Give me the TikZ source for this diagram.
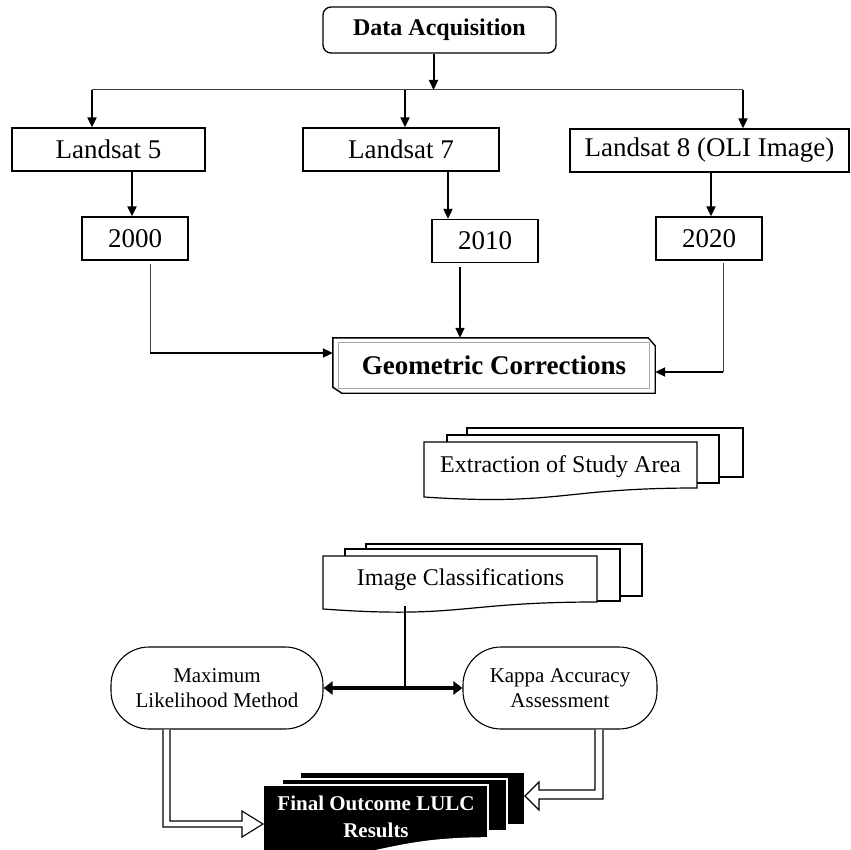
\documentclass[tikz,border=0pt]{standalone}
\usepackage{fontspec}
\setmainfont{Liberation Serif}
\usetikzlibrary{arrows.meta,calc}
\begin{document}
\begin{tikzpicture}[x=1pt,y=-1pt,
  ar/.style={line width=2pt,-{Triangle[length=10pt,width=9pt]}},
  thinln/.style={line width=1pt,draw=black!75},
  sqbox/.style={draw,line width=1.3pt,inner sep=0pt,minimum height=43pt,font=\fontsize{27}{30}\selectfont},
  yrbox/.style={sqbox,minimum width=106pt},
  pillbox/.style={draw,line width=1.1pt,rounded corners=38pt,minimum height=82pt,inner sep=0pt,align=center,font=\fontsize{21}{25}\selectfont},
  page/.style={fill=white,draw=black,line width=1.2pt},
  blkpage/.style={fill=black,draw=white,line width=1.6pt},
  blockarrow/.style={draw=black,fill=white,line width=1.1pt,line join=miter}
]
\useasboundingbox (0,0) rectangle (851,850);
\clip (0,0) rectangle (851,850);

% top
\node[draw,line width=1.3pt,rounded corners=8pt,minimum width=233pt,minimum height=46pt,inner sep=0pt,font=\bfseries\fontsize{24}{27}\selectfont] (da) at (439.5,30) {Data Acquisition};
\node[sqbox,minimum width=193pt] (l5) at (108.5,149.5) {Landsat 5};
\node[sqbox,minimum width=196pt] (l7) at (401,149.5) {Landsat 7};
\node[sqbox,minimum width=279pt] (l8) at (709.5,150.5) {Landsat 8 (OLI Image)};
\node[yrbox] (y00) at (135,238.5) {2000};
\node[yrbox] (y10) at (485,241) {2010};
\node[yrbox] (y20) at (709,238.5) {2020};
\node[minimum width=322pt,minimum height=55pt,inner sep=0pt,font=\bfseries\fontsize{27}{30}\selectfont] (geo) at (494,365.5) {Geometric Corrections};
\draw[line width=1.4pt] (geo.north west) -- ($(geo.north east)+(-7,0)$) -- ($(geo.north east)+(0,8)$) -- (geo.south east) -- ($(geo.south west)+(9,0)$) -- ($(geo.south west)+(0,-6)$) -- cycle;
\draw[black!35,line width=1pt] ($(geo.north west)+(6,5)$) rectangle ($(geo.south east)+(-6,-5)$);

% distribution line
\coordinate (hl) at (92,90);
\coordinate (hm) at (405,90);
\coordinate (hr) at (743,90);
\draw[thinln] (hl) -- (hr);
\coordinate (dab) at ($(da.south)+(-6,0)$);
\draw[ar] (dab) -- (dab |- hl);
\draw[ar] (hl) -- (hl |- l5.north);
\draw[ar] (hm) -- (hm |- l7.north);
\draw[ar] (hr) -- (hr |- l8.north);

% landsat -> years
\coordinate (a5) at ($(y00.north)+(-3,0)$);
\draw[ar] (a5 |- l5.south) -- (a5);
\coordinate (a7) at ($(y10.north)+(-37,0)$);
\draw[ar] (a7 |- l7.south) -- (a7);
\coordinate (a8) at ($(y20.north)+(2,0)$);
\draw[ar] (a8 |- l8.south) -- (a8);

% years -> geometric corrections
\coordinate (s00) at ($(y00.south)+(15,3)$);
\coordinate (c00) at ($(geo.west)+(0,-12.5)$);
\draw[thinln] (s00) -- (s00 |- c00);
\draw[ar] (s00 |- c00) -- (c00);
\coordinate (s10) at ($(y10.south)+(-25,4)$);
\draw[ar] (s10) -- (s10 |- geo.north);
\coordinate (s20) at ($(y20.south)+(14,2)$);
\coordinate (c20) at ($(geo.east)+(0,6.5)$);
\draw[thinln] (s20) -- (s20 |- c20);
\draw[ar] (s20 |- c20) -- (c20);

% Extraction of Study Area (multi-document)
\draw[page] (467,428) rectangle (743,477);
\draw[page] (447,435) rectangle (719,483);
\draw[page] (424,442) -- (697,442) -- (697,488) .. controls (560.5,488) and (560.5,506) .. (424,497) -- cycle;
\node[font=\fontsize{24}{28}\selectfont,inner sep=0pt] (ex) at (560.5,466.4) {Extraction of Study Area};

% Image Classifications (multi-document)
\draw[page] (366,544) rectangle (642,596);
\draw[page] (345,549) rectangle (620,601);
\draw[page] (323,556) -- (597,556) -- (597,602) .. controls (460,602) and (460,619) .. (323,609) -- cycle;
\node[font=\fontsize{24}{28}\selectfont,inner sep=0pt] (ic) at (460.5,579.4) {Image Classifications};
\coordinate (icb) at (405,606);

% methods
\node[pillbox,minimum width=212pt] (mlm) at (217,688) {Maximum\\Likelihood Method};
\node[pillbox,minimum width=194pt] (kap) at (560,688) {Kappa Accuracy\\Assessment};
\draw[line width=2pt] (icb) -- (icb |- mlm.east);
\draw[line width=4pt,{Triangle[length=9pt,width=13pt]}-{Triangle[length=9pt,width=13pt]}] (mlm.east) -- (kap.west);

% Final outcome (multi-document, black)
\draw[blkpage] (300,772) rectangle (525,825);
\draw[blkpage] (282,779) rectangle (507,831);
\draw[blkpage] (263,785) -- (488,785) -- (488,838) .. controls (375.5,838) and (375.5,866) .. (263,856) -- cycle;
\node[text=white,font=\bfseries\fontsize{21}{27}\selectfont,align=center,inner sep=0pt] (fo) at (376,817) {Final Outcome LULC\\Results};

% block arrows
\coordinate (tipL) at (263,824);
\coordinate (tipR) at (525,796);
\draw[blockarrow] ($(mlm.south)+(-54,0)$) |- ($(tipL)+(-21,3)$) -- ($(tipL)+(-21,13)$) -- (tipL) -- ($(tipL)+(-21,-13)$) -- ($(tipL)+(-21,-3)$) -| ($(mlm.south)+(-47,0)$);
\draw[blockarrow] ($(kap.south)+(43,0)$) |- ($(tipR)+(14,3)$) -- ($(tipR)+(14,14)$) -- (tipR) -- ($(tipR)+(14,-14)$) -- ($(tipR)+(14,-6)$) -| ($(kap.south)+(35,0)$);
\end{tikzpicture}
\end{document}
